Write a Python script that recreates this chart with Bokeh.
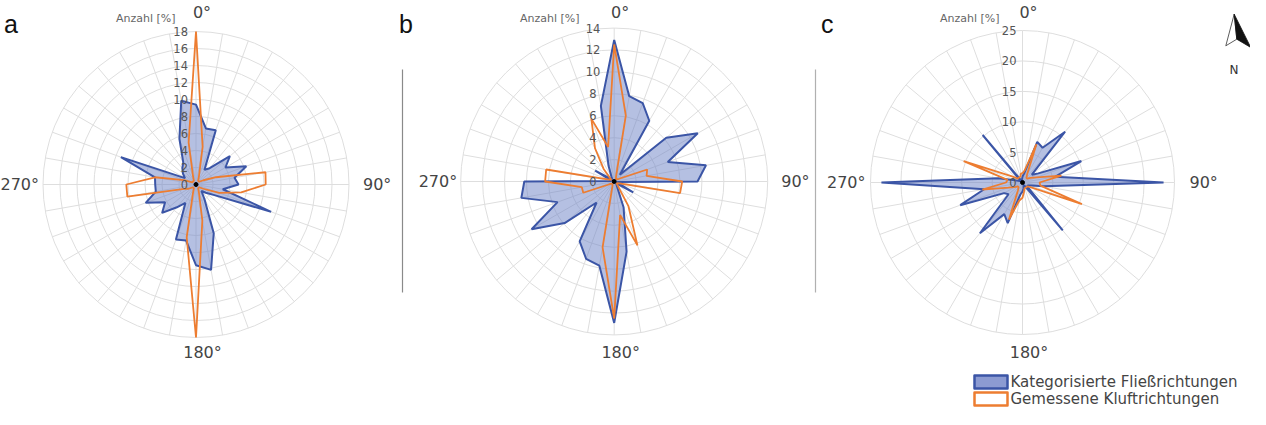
import numpy as np
from bokeh.plotting import figure
from bokeh.models import Range1d
from bokeh.core.properties import value
from bokeh.embed import file_html
from bokeh.resources import INLINE

# ---------------- data ----------------
angles = list(range(0, 360, 10))  # direction bins in degrees

a_flow = [9.4, 6.7, 6.8, 2.0, 2.5, 5.2, 4.0, 6.3, 4.6, 5.0, 3.2, 9.4, 2.5, 1.5, 1.0, 2.0, 6.1, 10.2,
          9.5, 6.7, 6.9, 2.5, 3.5, 5.2, 4.2, 6.3, 4.8, 4.8, 4.9, 9.4, 1.5, 2.0, 2.5, 3.0, 5.7, 10.0]
a_joint = [18, 4.5, 1.0, 0.5, 0.5, 0.5, 1.0, 2.5, 8.3, 8.2, 5.4, 2.9, 1.0, 0.5, 0.5, 0.5, 1.0, 4.3,
           18, 6.3, 1.0, 0.5, 0.5, 0.5, 1.0, 1.5, 8.2, 8.2, 4.9, 1.5, 0.5, 0.5, 0.5, 0.5, 1.0, 5.0]

b_flow = [12.9, 7.9, 7.6, 6.4, 0.8, 6.2, 8.8, 5.2, 8.5, 7.6, 0.3, 0.3, 2.0, 0.3, 0.3, 0.5, 2.5, 6.5,
          12.9, 7.8, 7.5, 6.3, 2.5, 5.9, 8.7, 5.5, 8.6, 8.2, 0.3, 0.3, 2.0, 0.3, 0.3, 0.5, 1.5, 7.0]
b_joint = [12.5, 6.1, 0.5, 0.3, 0.3, 0.3, 0.5, 3.2, 3.0, 6.2, 6.1, 0.5, 0.3, 0.3, 0.5, 2.6, 6.2, 3.1,
           12.5, 6.1, 0.5, 0.3, 0.3, 0.3, 0.5, 3.0, 3.0, 6.3, 6.3, 0.5, 0.3, 0.5, 1.5, 3.5, 6.1, 3.2]

c_flow = [1.0, 1.5, 7.1, 6.6, 10.9, 2.0, 3.0, 10.3, 5.5, 23.2, 3.5, 1.5, 1.0, 1.0, 10.3, 0.5, 0.5, 1.0,
          1.5, 2.0, 7.1, 6.0, 10.9, 3.0, 3.5, 10.9, 6.4, 23.2, 4.0, 1.0, 0.5, 0.3, 10.2, 0.3, 0.5, 0.5]
c_joint = [1.5, 2.0, 6.7, 1.5, 1.0, 1.0, 1.5, 2.5, 6.5, 2.8, 3.0, 10.4, 1.5, 1.0, 1.0, 1.0, 1.0, 1.5,
           2.5, 3.0, 6.5, 1.5, 1.0, 1.0, 1.5, 2.5, 6.7, 2.7, 2.5, 10.3, 2.0, 1.0, 1.0, 1.0, 1.0, 1.5]

a_ticks = [0, 2, 4, 6, 8, 10, 12, 14, 16, 18]
b_ticks = [0, 2, 4, 6, 8, 10, 12, 14]
c_ticks = [0, 5, 10, 15, 20, 25]

angle_labels = ["0°", "90°", "180°", "270°"]
panel_letters = ["a", "b", "c"]
radial_title = "Anzahl [%]"
legend_labels = ["Kategorisierte Fließrichtungen", "Gemessene Kluftrichtungen"]

# ---------------- styles ----------------
BLUE = "#3b55a6"
BLUE_FILL = "#6c82c6"
ORANGE = "#ed7d31"
GRID = "#dedede"
TXT = "#444444"
FONT = "DejaVu Sans"

W, H = 1250, 409
p = figure(width=W, height=H, output_backend="svg", toolbar_location=None,
           x_range=Range1d(8, 8 + W), y_range=Range1d(8 + H, 8),
           min_border=0, outline_line_color=None)
p.axis.visible = False
p.grid.visible = False
p.background_fill_color = "white"


def to_xy(cx, cy, R, rmax, vals):
    th = np.deg2rad(np.array(angles, dtype=float))
    r = np.array(vals, dtype=float) / rmax * R
    x = cx + r * np.sin(th)
    y = cy - r * np.cos(th)
    return list(x), list(y)


def panel(cx, cy, R, ticks, flow, joint, letter, lx, title_right, tick_x, tick_align):
    rmax = ticks[-1]
    # rings
    radii = [t / rmax * R for t in ticks[1:]]
    p.circle(x=[cx] * len(radii), y=[cy] * len(radii), radius=radii,
             fill_color=None, line_color=GRID, line_width=1)
    # spokes
    th = np.deg2rad(np.array(angles, dtype=float))
    p.segment(x0=[cx] * len(angles), y0=[cy] * len(angles),
              x1=list(cx + R * np.sin(th)), y1=list(cy - R * np.cos(th)),
              line_color=GRID, line_width=1)
    # blue polygon
    fx, fy = to_xy(cx, cy, R, rmax, flow)
    p.patch(fx, fy, fill_color=BLUE_FILL, fill_alpha=0.5, line_color=BLUE, line_width=2)
    # orange polygon
    jx, jy = to_xy(cx, cy, R, rmax, joint)
    p.line(jx + [jx[0]], jy + [jy[0]], line_color=ORANGE, line_width=1.8)
    p.scatter([cx], [cy], size=4, color="black")
    # radial tick labels
    p.text(x=[tick_x] * len(ticks), y=[cy - t / rmax * R for t in ticks],
           text=[str(t) for t in ticks], text_font=value(FONT),
           text_font_size=value("11.5px"), text_color="#555555",
           text_align=tick_align, text_baseline="middle")
    p.text(x=[title_right], y=[26], text=[radial_title], text_font=value(FONT),
           text_font_size=value("11px"), text_color="#666666",
           text_align="right", text_baseline="middle")
    # angle labels
    p.text(x=[cx + 6, cx + 6.5], y=[20, 360], text=[angle_labels[0], angle_labels[2]],
           text_font=value(FONT), text_font_size=value("16px"), text_color=TXT,
           text_align="center", text_baseline="middle")
    p.text(x=[cx + 167], y=[cy], text=[angle_labels[1]], text_font=value(FONT),
           text_font_size=value("16px"), text_color=TXT, text_align="left", text_baseline="middle")
    p.text(x=[cx - 157], y=[cy], text=[angle_labels[3]], text_font=value(FONT),
           text_font_size=value("16px"), text_color=TXT, text_align="right", text_baseline="middle")
    # panel letter
    p.text(x=[lx], y=[31.5], text=[letter], text_font=value("Liberation Sans"),
           text_font_size=value("25px"), text_color="#111111",
           text_align="left", text_baseline="alphabetic")


panel(203.5, 192, 153, a_ticks, a_flow, a_joint, panel_letters[0], 11.5, 183, 195.5, "right")
panel(621.7, 189, 153.5, b_ticks, b_flow, b_joint, panel_letters[1], 406.5, 587, 600.5, "center")
panel(1030, 190, 152, c_ticks, c_flow, c_joint, panel_letters[2], 828.5, 1007, 1024, "right")

# separators
p.segment(x0=[410, 823], y0=[77, 77], x1=[410, 823], y1=[300, 300],
          line_color=["#8a8a8a", "#b0b0b0"], line_width=1.2)

# north arrow
p.patch([1241.7, 1233.3, 1244.3], [21.7, 53.3, 46.7], fill_color="white",
        line_color="#333333", line_width=0.8)
p.patch([1241.7, 1244.3, 1258.3], [21.7, 46.7, 55.0], fill_color="#111111",
        line_color="#111111", line_width=0.8)
p.text(x=[1241.5], y=[77], text=["N"], text_font=value(FONT), text_font_size=value("12px"),
       text_color="#333333", text_align="center", text_baseline="middle")

# legend
p.quad(left=[982], right=[1015], top=[383], bottom=[396], fill_color="#8c9bd2",
       line_color=BLUE, line_width=2.5, line_join="round")
p.quad(left=[982], right=[1015], top=[400], bottom=[413], fill_color="white",
       line_color=ORANGE, line_width=2.5, line_join="round")
p.text(x=[1018, 1018], y=[389.5, 406.5], text=legend_labels, text_font=value(FONT),
       text_font_size=value("15px"), text_color=TXT, text_align="left", text_baseline="middle")

open("out.html", "w").write(file_html(p, INLINE))
